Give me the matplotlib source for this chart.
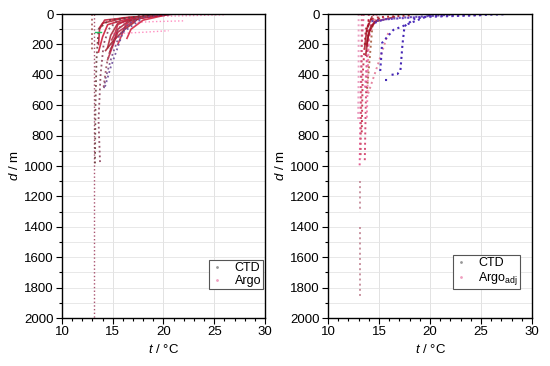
import matplotlib
matplotlib.use("Agg")
import matplotlib.pyplot as plt
from matplotlib.lines import Line2D
from matplotlib.ticker import MultipleLocator

plt.rcParams['font.family'] = ['Liberation Sans', 'DejaVu Sans']
plt.rcParams['mathtext.fontset'] = 'custom'
plt.rcParams['mathtext.it'] = 'Liberation Sans:italic'
plt.rcParams['mathtext.rm'] = 'Liberation Sans'
plt.rcParams['font.size'] = 9.5

# profiles as (t, d) nodes
left_ctd = [
    [(20.5, 0), (17.5, 15), (15.5, 40), (14.6, 100), (14.1, 200), (13.8, 400), (13.6, 700), (13.75, 980)],
    [(21.0, 0), (18.0, 20), (16.6, 60), (15.6, 150), (14.9, 280), (14.3, 420), (14.1, 500)],
    [(19.8, 0), (17.2, 30), (15.6, 90), (14.9, 200), (14.4, 330), (14.1, 480)],
    [(19.5, 0), (14.6, 40), (13.6, 100), (13.4, 300), (13.3, 600), (13.25, 1000)],
    [(17.7, 40), (16.0, 120), (15.4, 237), (14.8, 350), (14.2, 487)],
    [(12.95, 0), (12.95, 120), (12.95, 250)],
]
left_ctd_colors = ['#8a3f5a', '#7a4a8a', '#9a5060', '#6a3a3a', '#6a4a9a', '#a05050']

left_argo = [
    [(20.5, 0), (19.0, 15), (16.0, 40), (14.5, 70), (14.0, 150), (13.6, 250)],
    [(21.0, 0), (18.0, 25), (16.5, 50), (15.5, 100), (15.0, 200), (14.7, 250)],
    [(20.0, 5), (17.0, 30), (16.3, 70), (16.0, 120), (15.5, 200)],
    [(19.5, 0), (17.5, 30), (17.0, 60), (16.2, 100), (15.0, 180), (14.3, 240)],
    [(20.1, 7), (17.0, 20), (14.2, 40), (13.7, 100), (13.6, 200)],
    [(17.2, 40), (15.5, 120), (14.5, 300)],
    [(20.0, 10), (18.0, 40), (16.8, 100), (16.4, 160)],
    [(19.0, 5), (15.5, 60), (14.8, 140), (14.5, 220)],
    [(20.5, 3), (16.0, 25), (15.0, 45), (14.0, 60), (13.7, 90)],
    [(18.5, 20), (16.5, 35), (15.5, 70), (15.2, 130), (14.9, 170)],
]
left_argo_colors = ['#c8102e', '#b01030', '#d02040', '#a01828', '#c01030',
                    '#b82040', '#d01838', '#a82030', '#b81830', '#c02040']

left_deep = [(13.15, 0), (13.15, 500), (13.15, 1000), (13.15, 1500), (13.15, 2000)]

left_pink = [
    [(20.0, 15), (23.0, 10), (26.0, 5)],
    [(15.0, 130), (18.0, 120), (20.5, 110)],
    [(16.0, 60), (19.0, 50), (22.0, 45)],
]

right_ctd = [
    [(27.2, 2), (20.0, 15), (18.5, 30), (17.5, 80), (17.3, 200), (17.1, 370), (16.8, 395), (16.2, 400)],
    [(20.0, 7), (16.4, 105), (15.3, 190), (15.2, 300), (15.1, 390)],
    [(25.0, 8), (19.0, 20), (15.5, 35), (14.5, 60)],
    [(22.0, 5), (17.0, 25), (14.0, 50)],
    [(15.6, 435), (16.1, 435)],
]
right_ctd_colors = ['#3a1ab0', '#4020b8', '#5a30c0', '#6040b0', '#3a20b0']

right_argo = [
    [(14.4, 40), (14.1, 280), (13.8, 520)],
    [(15.9, 125), (14.9, 330), (13.9, 530)],
    [(13.5, 0), (13.3, 200), (13.2, 500), (13.15, 800), (13.1, 1000)],
    [(14.0, 0), (13.8, 300), (13.7, 600), (13.6, 980)],
    [(14.5, 0), (13.7, 100), (13.4, 400), (13.3, 800)],
    [(15.5, 20), (14.2, 60), (13.9, 250), (13.6, 500)],
    [(18.0, 10), (15.0, 20), (14.0, 40), (13.8, 120)],
    [(13.0, 0), (13.0, 400), (12.95, 700)],
    [(14.8, 0), (14.0, 150), (13.9, 400), (13.8, 700)],
    [(13.3, 0), (13.3, 300), (13.25, 600), (13.2, 950)],
    [(13.1, 1100), (13.1, 1300)],
    [(13.1, 1400), (13.1, 1870)],
]
right_argo_colors = ['#a05030', '#e07090', '#e04080', '#d03060', '#c01838',
                     '#e060a0', '#b01020', '#e890b8', '#f070a0', '#d05070',
                     '#c08090', '#c08090']

right_red = [
    [(15.0, 30), (14.2, 80), (13.9, 160), (13.7, 270)],
    [(14.3, 20), (13.8, 100), (13.6, 220)],
    [(16.5, 20), (14.6, 50), (14.0, 120), (13.8, 200)],
]


def draw(ax, profs, cols, ls, lw, alpha):
    for p, c in zip(profs, cols):
        t = [q[0] for q in p]
        d = [q[1] for q in p]
        ax.plot(t, d, ls=ls, lw=lw, color=c, alpha=alpha)


fig = plt.figure(figsize=(5.5, 3.66), dpi=100)
ax1 = fig.add_axes([0.1127, 0.1311, 0.3691, 0.8306])
ax2 = fig.add_axes([0.5964, 0.1311, 0.3709, 0.8306])

draw(ax1, left_pink, ['#ff70b0'] * 3, ':', 1.0, 0.8)
draw(ax1, [left_deep], ['#a04060'], ':', 1.0, 0.9)
draw(ax1, left_argo, left_argo_colors, '-', 1.2, 0.85)
draw(ax1, left_ctd, left_ctd_colors, ':', 1.3, 0.9)
ax1.plot([13.3, 13.8], [120, 120], color='#20c060', lw=1.0)

draw(ax2, right_argo, right_argo_colors, ':', 1.4, 0.85)
draw(ax2, right_red, ['#a01020'] * 3, '-', 1.3, 0.8)
draw(ax2, right_ctd, right_ctd_colors, ':', 1.5, 0.95)

for ax, lab in [(ax1, 'Argo'), (ax2, r'Argo$_{\mathrm{adj}}$')]:
    ax.set_xlim(10, 30)
    ax.set_ylim(2000, 0)
    ax.xaxis.set_major_locator(MultipleLocator(5))
    ax.xaxis.set_minor_locator(MultipleLocator(1))
    ax.yaxis.set_major_locator(MultipleLocator(200))
    ax.yaxis.set_minor_locator(MultipleLocator(100))
    ax.grid(True, which='major', axis='x', color='#dddddd', lw=0.6)
    ax.grid(True, which='both', axis='y', color='#e4e4e4', lw=0.6)
    ax.set_axisbelow(True)
    ax.tick_params(which='major', direction='out', length=4, width=0.8, pad=2)
    ax.tick_params(which='minor', direction='out', length=2.5, width=0.8)
    for s in ax.spines.values():
        s.set_linewidth(1.0)
    ax.set_xlabel(r'$t$ / °C', labelpad=3)
    ax.set_ylabel(r'$d$ / m', labelpad=2)
    handles = [Line2D([], [], ls='none', marker='.', ms=2, color='#999999'),
               Line2D([], [], ls='none', marker='.', ms=2, color='#f0a0c0')]
    leg = ax.legend(handles, ['CTD', lab], loc='lower right', fontsize=9,
                    bbox_to_anchor=(0.99 if ax is ax1 else 0.94, 0.095),
                    fancybox=False, edgecolor='#555555', framealpha=1,
                    borderpad=0.15, handlelength=1.0, labelspacing=0.1,
                    handletextpad=0.9, borderaxespad=0)
    leg.get_frame().set_linewidth(0.8)

fig.savefig('out.png', dpi=100)
